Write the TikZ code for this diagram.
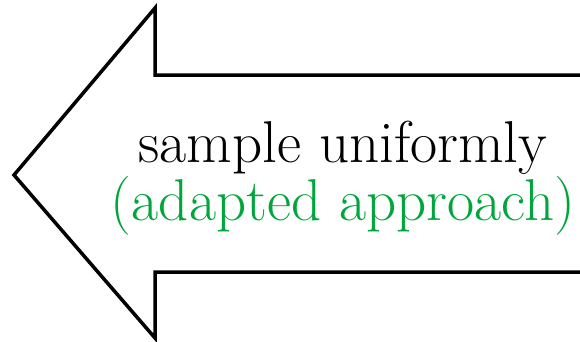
\documentclass[tikz,border=0pt]{standalone}
\usepackage{fontspec}
\definecolor{adgreen}{RGB}{0,166,60}
\begin{document}
\begin{tikzpicture}[x=1pt,y=1pt,
  arrowshape/.style={draw=black,line width=3.5pt,line join=miter,fill=white},
  lbl/.style={anchor=base,inner sep=0pt,font=\fontsize{59}{70}\selectfont}]
\useasboundingbox (0,0) rectangle (580,341);
\draw[arrowshape] (600,266) -- (155,266) -- (155,333) -- (14,166) -- (155,3) -- (155,69) -- (600,69);
\node[lbl] (l1) at (343,179) {sample uniformly};
\node[lbl,text=adgreen] (l2) at (343,121) {(adapted approach)};
\end{tikzpicture}
\end{document}
